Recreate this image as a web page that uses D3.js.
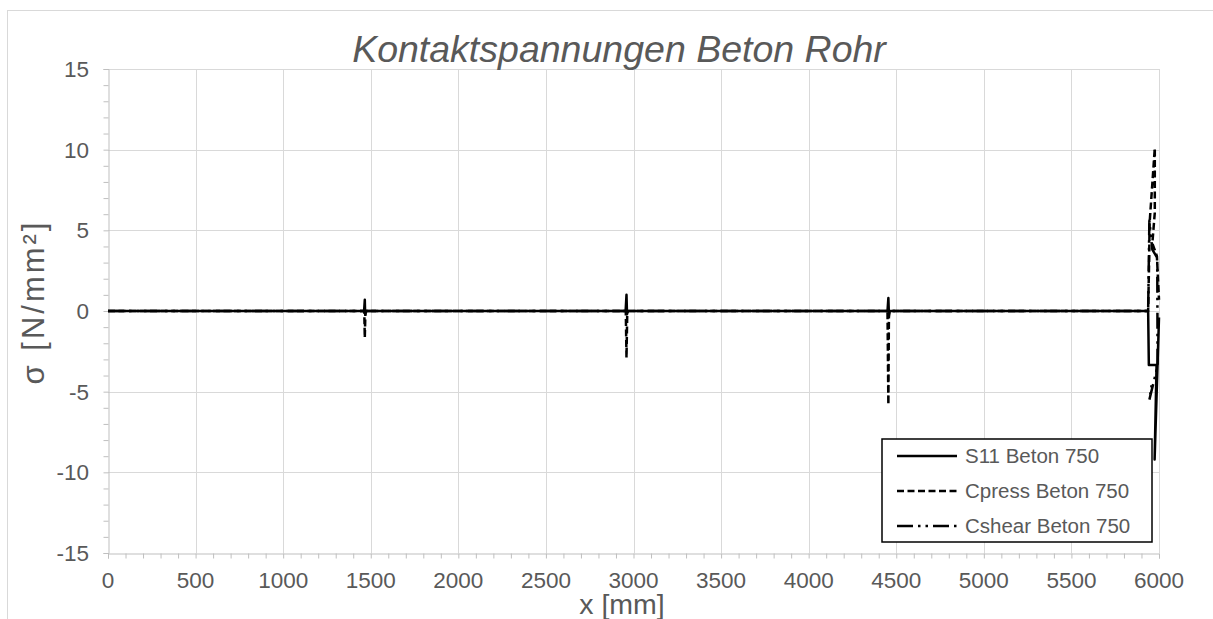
<!DOCTYPE html>
<html>
<head>
<meta charset="utf-8">
<script src="https://cdn.jsdelivr.net/npm/d3@7"></script>
<style>
  html, body { margin: 0; padding: 0; background: #ffffff; }
  svg { display: block; }
  text { font-family: "Liberation Sans", Arial, sans-serif; fill: #595959; }
</style>
</head>
<body>
<svg id="chart" width="1213" height="619"></svg>
<script>
// Contact stresses along the pipe, x in mm, stress in N/mm²
const s11Beton = [
  [0, 0], [1462, 0], [1466, 0.7], [1468, -0.2], [1472, 0],
  [2955, 0], [2960, 1.0], [2963, -0.2], [2968, 0],
  [4450, 0], [4455, 0.8], [4458, -0.2], [4462, 0],
  [5938, 0], [5942, -3.35], [5986, -3.35], [5975, -9.2], [6000, -0.4]
];
const cpressBeton = [
  [0, 0], [1463, 0], [1466, -1.65], [1469, -0.3], [1472, 0],
  [2956, 0], [2960, -2.9], [2964, -0.3], [2968, 0],
  [4450, 0], [4455, -5.8], [4458, -0.4], [4462, 0],
  [5938, 0], [5944, 3.3], [5946, 5.4], [5976, 10.1], [5976, 6.1],
  [5962, 4.2], [5988, 3.4], [6000, 0.7]
];
const cshearBeton = [
  [0, 0], [5938, 0], [5945, 5.6], [5962, 3.8], [5990, 3.3],
  [5992, -3.4], [5945, -5.5], [5958, -4.6]
];

const seriesNames = ["S11 Beton 750", "Cpress Beton 750", "Cshear Beton 750"];
const xTickLabels = [0, 500, 1000, 1500, 2000, 2500, 3000, 3500, 4000, 4500, 5000, 5500, 6000];
const yTickLabels = [-15, -10, -5, 0, 5, 10, 15];

const chartTitle = "Kontaktspannungen Beton Rohr";
const xTitle = "x [mm]";
const yTitle = "σ [N/mm²]";

const svg = d3.select("#chart");
const plot = { left: 108, right: 1159, top: 69, bottom: 553 };

const x = d3.scaleLinear().domain([0, 6000]).range([plot.left, plot.right]);
const y = d3.scaleLinear().domain([-15, 15]).range([plot.bottom, plot.top]);

// chart frame
svg.append("rect")
  .attr("x", 7.5).attr("y", 10.5)
  .attr("width", 1220).attr("height", 620)
  .attr("fill", "#ffffff").attr("stroke", "#d9d9d9").attr("stroke-width", 1);

// gridlines
const grid = svg.append("g").attr("stroke", "#d9d9d9").attr("stroke-width", 1);
grid.selectAll("line.v").data(xTickLabels.filter(d => d !== 0)).enter().append("line")
  .attr("x1", d => Math.round(x(d)) + 0.5).attr("x2", d => Math.round(x(d)) + 0.5)
  .attr("y1", plot.top).attr("y2", plot.bottom);
grid.selectAll("line.h").data(yTickLabels.filter(d => d !== -15)).enter().append("line")
  .attr("y1", d => Math.round(y(d)) + 0.5).attr("y2", d => Math.round(y(d)) + 0.5)
  .attr("x1", plot.left).attr("x2", plot.right);

// axes: minor ticks plus labelled major ticks
const axisColor = "#bfbfbf";
const xMinor = d3.range(0, 6001, 100);
const yMinor = d3.range(-15, 16, 1);

const gx = svg.append("g").attr("transform", `translate(0,${plot.bottom + 0.5})`)
  .call(d3.axisBottom(x).tickValues(xMinor).tickSize(5).tickFormat(""));
const gy = svg.append("g").attr("transform", `translate(${plot.left + 0.5},0)`)
  .call(d3.axisLeft(y).tickValues(yMinor).tickSize(5).tickFormat(""));
[gx, gy].forEach(g => {
  g.select(".domain").attr("stroke", axisColor);
  g.selectAll(".tick line").attr("stroke", axisColor);
});

svg.append("g").selectAll("text").data(xTickLabels).enter().append("text")
  .attr("x", d => x(d)).attr("y", 588)
  .attr("text-anchor", "middle")
  .attr("font-size", 22.5)
  .text(d => d);

svg.append("g").selectAll("text").data(yTickLabels).enter().append("text")
  .attr("x", 89).attr("y", d => y(d)).attr("dy", "0.36em")
  .attr("text-anchor", "end")
  .attr("font-size", 22.5)
  .text(d => d);

// titles
svg.append("text").attr("x", 619).attr("y", 62)
  .attr("text-anchor", "middle").attr("font-size", 37.5).attr("font-style", "italic")
  .text(chartTitle);
svg.append("text").attr("x", 622).attr("y", 614)
  .attr("text-anchor", "middle").attr("font-size", 28.5)
  .text(xTitle);
svg.append("text").attr("transform", "translate(44,302) rotate(-90)")
  .attr("text-anchor", "middle").attr("font-size", 31).attr("letter-spacing", 3)
  .text(yTitle);

// series
const styles = [
  { data: s11Beton, dash: null, width: 2.5 },
  { data: cpressBeton, dash: "7,3.5", width: 2.5 },
  { data: cshearBeton, dash: "16,5,2.5,5,2.5,5", width: 2.5 }
];
const line = d3.line().x(d => x(d[0])).y(d => y(d[1]));
const lines = svg.append("g");
styles.forEach(s => {
  lines.append("path").datum(s.data)
    .attr("d", line)
    .attr("fill", "none")
    .attr("stroke", "#000000")
    .attr("stroke-width", s.width)
    .attr("stroke-linejoin", "round")
    .attr("stroke-dasharray", s.dash);
});

// legend
const legend = svg.append("g");
legend.append("rect")
  .attr("x", 882).attr("y", 439).attr("width", 270).attr("height", 103)
  .attr("fill", "#ffffff").attr("stroke", "#000000").attr("stroke-width", 1.5);
const rows = legend.selectAll("g.row").data(styles).enter().append("g")
  .attr("transform", (d, i) => `translate(0,${456 + i * 35})`);
rows.append("line")
  .attr("x1", 897).attr("x2", 957).attr("y1", 0).attr("y2", 0)
  .attr("stroke", "#000000").attr("stroke-width", d => d.width)
  .attr("stroke-dasharray", d => d.dash);
rows.append("text")
  .attr("x", 965).attr("y", 0).attr("dy", "0.36em")
  .attr("font-size", 20.5)
  .text((d, i) => seriesNames[i]);
</script>
</body>
</html>
